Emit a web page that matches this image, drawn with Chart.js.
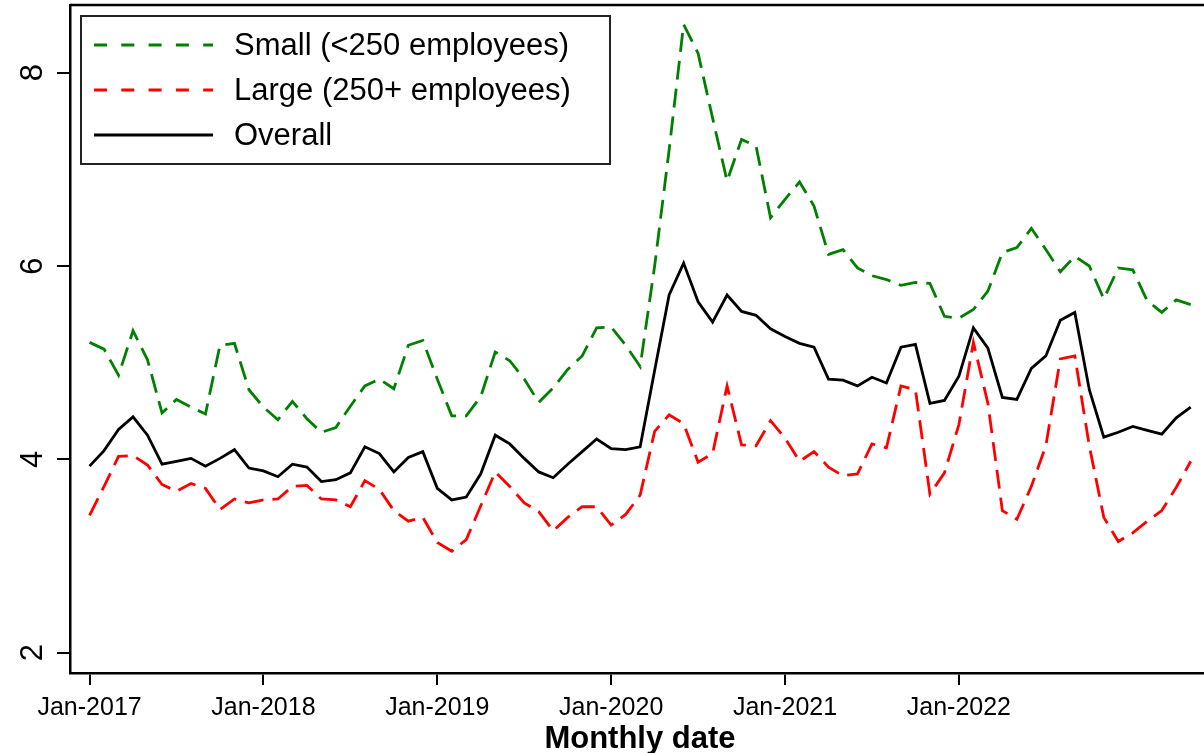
<!DOCTYPE html>
<html>
<head>
<meta charset="utf-8">
<script src="https://cdn.jsdelivr.net/npm/chart.js@4.4.1/dist/chart.umd.min.js"></script>
<style>
  html, body { margin: 0; padding: 0; background: #fff; overflow: hidden; }
  #wrap { position: relative; width: 1214px; height: 753px; }
</style>
</head>
<body>
<div id="wrap"><canvas id="chart"></canvas></div>
<script>
// monthly categories, Jan-2017 .. May-2023
const months = [
  'Jan-2017','Feb-2017','Mar-2017','Apr-2017','May-2017','Jun-2017','Jul-2017','Aug-2017','Sep-2017','Oct-2017','Nov-2017','Dec-2017',
  'Jan-2018','Feb-2018','Mar-2018','Apr-2018','May-2018','Jun-2018','Jul-2018','Aug-2018','Sep-2018','Oct-2018','Nov-2018','Dec-2018',
  'Jan-2019','Feb-2019','Mar-2019','Apr-2019','May-2019','Jun-2019','Jul-2019','Aug-2019','Sep-2019','Oct-2019','Nov-2019','Dec-2019',
  'Jan-2020','Feb-2020','Mar-2020','Apr-2020','May-2020','Jun-2020','Jul-2020','Aug-2020','Sep-2020','Oct-2020','Nov-2020','Dec-2020',
  'Jan-2021','Feb-2021','Mar-2021','Apr-2021','May-2021','Jun-2021','Jul-2021','Aug-2021','Sep-2021','Oct-2021','Nov-2021','Dec-2021',
  'Jan-2022','Feb-2022','Mar-2022','Apr-2022','May-2022','Jun-2022','Jul-2022','Aug-2022','Sep-2022','Oct-2022','Nov-2022','Dec-2022',
  'Jan-2023','Feb-2023','Mar-2023','Apr-2023','May-2023'
];

const small = [
  5.21, 5.14, 4.87, 5.33, 5.03, 4.48, 4.62, 4.54, 4.47, 5.18, 5.20, 4.72,
  4.54, 4.41, 4.60, 4.42, 4.28, 4.33, 4.55, 4.76, 4.83, 4.73, 5.18, 5.23,
  4.83, 4.45, 4.45, 4.65, 5.11, 5.02, 4.83, 4.59, 4.74, 4.93, 5.07, 5.36,
  5.37, 5.18, 4.96, 6.00, 7.20, 8.50, 8.20, 7.53, 6.88, 7.31, 7.24, 6.50,
  6.69, 6.87, 6.62, 6.12, 6.17, 5.98, 5.90, 5.86, 5.80, 5.83, 5.82, 5.48,
  5.46, 5.55, 5.74, 6.14, 6.19, 6.39, 6.17, 5.94, 6.10, 6.00, 5.66, 5.98,
  5.96, 5.64, 5.52, 5.65, 5.60
];

const large = [
  3.42, 3.72, 4.03, 4.04, 3.94, 3.74, 3.67, 3.75, 3.70, 3.48, 3.59, 3.55,
  3.58, 3.59, 3.72, 3.73, 3.59, 3.58, 3.51, 3.78, 3.69, 3.47, 3.36, 3.40,
  3.14, 3.05, 3.17, 3.52, 3.87, 3.72, 3.55, 3.46, 3.26, 3.40, 3.51, 3.51,
  3.32, 3.43, 3.63, 4.29, 4.46, 4.37, 3.97, 4.06, 4.76, 4.15, 4.14, 4.40,
  4.22, 3.98, 4.08, 3.92, 3.83, 3.85, 4.16, 4.12, 4.76, 4.72, 3.64, 3.86,
  4.36, 5.21, 4.58, 3.47, 3.38, 3.72, 4.14, 5.04, 5.07, 4.14, 3.40, 3.15,
  3.24, 3.36, 3.47, 3.71, 3.98
];

const overall = [
  3.93, 4.09, 4.31, 4.44, 4.25, 3.95, 3.98, 4.01, 3.93, 4.01, 4.10, 3.91,
  3.88, 3.82, 3.95, 3.92, 3.77, 3.79, 3.86, 4.13, 4.06, 3.87, 4.02, 4.08,
  3.70, 3.58, 3.61, 3.85, 4.25, 4.16, 4.01, 3.87, 3.81, 3.95, 4.08, 4.21,
  4.11, 4.10, 4.13, 4.92, 5.70, 6.03, 5.63, 5.42, 5.70, 5.53, 5.49, 5.35,
  5.27, 5.20, 5.16, 4.83, 4.82, 4.76, 4.85, 4.79, 5.16, 5.19, 4.58, 4.61,
  4.86, 5.36, 5.15, 4.64, 4.62, 4.94, 5.07, 5.44, 5.52, 4.72, 4.23, 4.28,
  4.34, 4.30, 4.26, 4.43, 4.54
];

const xTickLabels = ['Jan-2017', 'Jan-2018', 'Jan-2019', 'Jan-2020', 'Jan-2021', 'Jan-2022'];
const yTicks = [2, 4, 6, 8];

const xTickPos = xTickLabels.map(l => months.indexOf(l));
const FONT = '"Liberation Sans", Arial, sans-serif';
Chart.defaults.font.family = FONT;

function points(values) {
  return values.map((v, i) => ({ x: i, y: v }));
}

// Stata-style boxed legend inside the plot, plus the top frame line
const boxLegend = {
  id: 'boxLegend',
  afterDraw(chart) {
    const ctx = chart.ctx;
    const a = chart.chartArea;
    ctx.save();
    ctx.strokeStyle = '#000';
    ctx.lineWidth = 2.5;
    ctx.beginPath();
    ctx.moveTo(a.left, a.top);
    ctx.lineTo(a.right, a.top);
    ctx.stroke();

    const x0 = a.left + 11, y0 = a.top + 11, w = 529, h = 148;
    ctx.fillStyle = '#fff';
    ctx.fillRect(x0, y0, w, h);
    ctx.strokeStyle = '#222';
    ctx.lineWidth = 2;
    ctx.strokeRect(x0, y0, w, h);
    chart.data.datasets.forEach((ds, i) => {
      const y = y0 + 29 + i * 45;
      ctx.strokeStyle = ds.borderColor;
      ctx.lineWidth = ds.borderWidth;
      ctx.setLineDash(ds.borderDash && ds.borderDash.length ? [13, 14.3] : []);
      ctx.beginPath();
      ctx.moveTo(x0 + 13, y);
      ctx.lineTo(x0 + 132, y);
      ctx.stroke();
      ctx.setLineDash([]);
      ctx.fillStyle = '#000';
      ctx.font = '31px ' + FONT;
      ctx.textBaseline = 'middle';
      ctx.textAlign = 'left';
      ctx.fillText(ds.label, x0 + 153, y + 1.5);
    });
    ctx.restore();
  }
};

new Chart(document.getElementById('chart'), {
  type: 'line',
  data: {
    datasets: [
      { label: 'Small (<250 employees)', data: points(small), borderColor: '#008000',
        borderWidth: 2.8, borderDash: [19, 9], pointRadius: 0, tension: 0, order: 3 },
      { label: 'Large (250+ employees)', data: points(large), borderColor: '#ff0000',
        borderWidth: 2.8, borderDash: [19, 9], pointRadius: 0, tension: 0, order: 2 },
      { label: 'Overall', data: points(overall), borderColor: '#000000',
        borderWidth: 2.8, borderDash: [], pointRadius: 0, tension: 0, order: 1 }
    ]
  },
  options: {
    responsive: true,
    maintainAspectRatio: false,
    animation: false,
    layout: { padding: { left: 0, top: 5, right: 4, bottom: 0 } },
    plugins: {
      legend: { display: false },
      tooltip: { callbacks: { title: items => months[items[0].parsed.x] } }
    },
    scales: {
      x: {
        type: 'linear',
        min: -1.35,
        max: 77.33,
        afterBuildTicks: s => { s.ticks = xTickPos.map(v => ({ value: v })); },
        afterFit: s => { s.height = 80; s.paddingLeft = 0; s.paddingRight = 0; },
        border: { display: true, color: '#000', width: 2.5 },
        grid: { drawOnChartArea: false, drawTicks: true, tickLength: 12, color: '#000', lineWidth: 2 },
        ticks: {
          autoSkip: false, maxRotation: 0, minRotation: 0, padding: 8, color: '#000',
          font: { size: 25 },
          callback: v => xTickLabels[xTickPos.indexOf(v)]
        },
        title: {
          display: true, text: 'Monthly date', color: '#000', padding: 0,
          font: { size: 31, weight: 'bold', lineHeight: 0.9 }
        }
      },
      y: {
        min: 1.79,
        max: 8.70,
        afterBuildTicks: s => { s.ticks = yTicks.map(v => ({ value: v })); },
        afterFit: s => { s.width = 70; s.paddingTop = 0; s.paddingBottom = 0; },
        border: { display: true, color: '#000', width: 2.5 },
        grid: { drawOnChartArea: false, drawTicks: true, tickLength: 13, color: '#000', lineWidth: 2 },
        ticks: {
          color: '#000', font: { size: 31 }, minRotation: 90, maxRotation: 90,
          padding: 15, crossAlign: 'center'
        }
      }
    }
  },
  plugins: [boxLegend]
});
</script>
</body>
</html>
